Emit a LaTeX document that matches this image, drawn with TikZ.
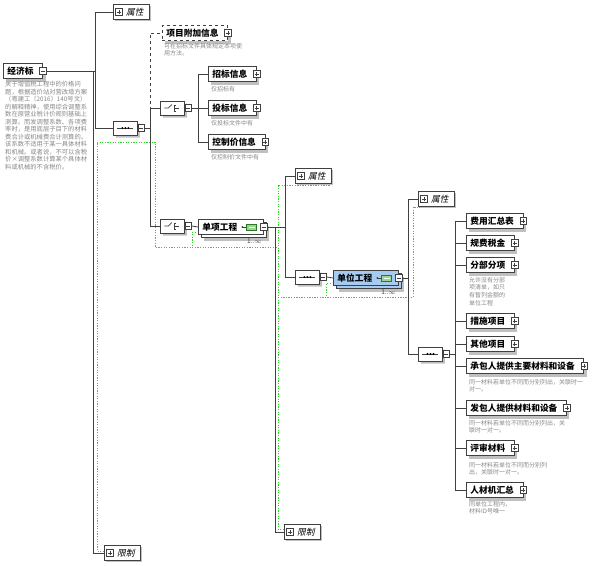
\documentclass[tikz,border=0pt]{standalone}
\usepackage{fontspec}
\setmainfont{Noto Sans CJK SC}
\newfontfamily\cjkslant[FakeSlant=0.22]{Noto Sans CJK SC}
\usetikzlibrary{positioning, shapes.misc, shadows}

\definecolor{linegray}{RGB}{64,64,64}
\definecolor{descgray}{RGB}{135,135,135}
\definecolor{shadegray}{RGB}{192,192,192}
\definecolor{selblue}{RGB}{166,202,240}
\definecolor{typegreen}{RGB}{40,215,40}
\definecolor{iconfill}{RGB}{150,215,140}
\definecolor{icondraw}{RGB}{40,120,40}

\newcommand{\seqsym}[1]{%
	\begin{scope}[shift={(#1.center)}]
		\draw[linegray, line width=0.8pt] (-8,0) -- (8,0);
		\foreach \dx in {-3,0,3}
			\fill[black] (\dx,0) circle (1.1pt);
	\end{scope}}
\newcommand{\chosym}[1]{%
	\begin{scope}[shift={(#1.center)}]
		\draw[linegray, line width=0.7pt] (-8,0) -- (-4,0) -- (-0.5,-3.5);
		\draw[linegray, line width=0.7pt] (1.5,-3) -- (1.5,3) (1.5,-3) -- (4,-3) (1.5,0) -- (7,0) (1.5,3) -- (4,3);
	\end{scope}}
\newcommand{\pad}[1]{\hspace{#1}\null}

\tikzset{
	conn/.style={draw=linegray, line width=0.8pt},
	elembox/.style={draw=linegray, fill=white, line width=0.8pt, minimum height=15pt, inner xsep=4pt, inner ysep=0pt, anchor=west, font=\fontsize{8.7}{10}\selectfont\bfseries,
		general shadow={fill=shadegray, shadow xshift=3pt, shadow yshift=-3pt}},
	optbox/.style={elembox, dashed},
	manybox/.style={elembox, general shadow={fill=shadegray, shadow xshift=6pt, shadow yshift=-6pt},
		copy shadow={shadow xshift=3pt, shadow yshift=-3pt, draw=linegray, fill=#1}},
	manybox/.default=white,
	attrbox/.style={draw=linegray, fill=white, line width=0.8pt, minimum height=15pt, minimum width=36pt, inner sep=0pt, anchor=west, font=\fontsize{8.7}{10}\cjkslant,
		general shadow={fill=shadegray, shadow xshift=1.5pt, shadow yshift=-1.5pt}},
	compbox/.style={chamfered rectangle, chamfered rectangle xsep=5pt, draw=linegray, fill=white, line width=0.8pt, minimum width=24pt, minimum height=14pt, inner sep=0pt, anchor=west,
		general shadow={fill=shadegray, shadow xshift=2.5pt, shadow yshift=-2.5pt}},
	tglminus/.style={draw=linegray, fill=white, line width=0.6pt, minimum size=6.5pt, inner sep=0pt,
		path picture={\draw[line width=0.6pt] ([xshift=1.3pt]path picture bounding box.west) -- ([xshift=-1.3pt]path picture bounding box.east);}},
	tglplus/.style={draw=linegray, fill=white, line width=0.6pt, minimum size=6.5pt, inner sep=0pt,
		path picture={\draw[line width=0.6pt] ([xshift=1.3pt]path picture bounding box.west) -- ([xshift=-1.3pt]path picture bounding box.east)
			([yshift=-1.3pt]path picture bounding box.north) -- ([yshift=1.3pt]path picture bounding box.south);}},
	cticon/.style={draw=icondraw, fill=iconfill, line width=0.5pt, minimum width=10pt, minimum height=6pt, inner sep=0pt,
		path picture={\draw[white, line width=0.6pt] ([xshift=2pt]path picture bounding box.west) -- ([xshift=-2pt]path picture bounding box.east);}},
	desc/.style={anchor=north west, align=left, inner sep=0pt, text=descgray, font=\fontsize{6}{7.6}\selectfont},
	mult/.style={anchor=north east, inner sep=0pt, text=linegray, font=\fontsize{6.5}{7}\selectfont},
	typeline/.style={draw=typegreen, dash pattern=on 1.3pt off 1.3pt, line width=1pt}
}

\begin{document}
\begin{tikzpicture}[x=1pt, y=-1pt]
	\useasboundingbox (0,0) rectangle (594,565);

	% type regions
	\draw[typeline] (104,551) -| (97,142) -- (155,142) -- (155,247) -- (278,247);
	\draw[typeline] (284,529) -| (278,185) -- (330,185);
	\draw[typeline] (278,297) -- (413,297) -- (413,207) -- (455,207);

	% root
	\node[elembox] (jjb) at (3,71) {经济标\pad{5pt}};
	\node[tglminus] (jjb-t) at (jjb.east) {};
	\node[desc, font=\fontsize{6.3}{7.5}\selectfont] (jjb-d) at (5,81) {关于增值税工程中的价格问\\题，根据造价站对营改增方案\\（粤建工〔2016〕140号文）\\的解释精神，使用综合调整系\\数在原营业税计价规则基础上\\测算。而发调整系数、各项费\\率时，是用底层子目下的材料\\费合计或机械费合计测算的。\\该系数不适用于某一具体材料\\和机械。或者说，不可以含税\\价×调整系数计算某个具体材\\料或机械的不含税价。};
	\node[attrbox] (attr0) at (113,12) {\hspace{11pt}属性\pad{4pt}};
	\node[tglplus] at ([xshift=6pt]attr0.west) {};
	\node[compbox] (seq0) at (113,128) {};
	\seqsym{seq0}
	\node[tglminus] (seq0-t) at ([xshift=3.5pt]seq0.east) {};
	\node[attrbox] (lim0) at (104,553) {\hspace{11pt}限制\pad{4pt}};
	\node[tglplus] at ([xshift=6pt]lim0.west) {};
	\coordinate (k0a) at (95,71);
	\coordinate (k0b) at (93,71);
	\draw[conn] (jjb-t.east) -- (k0a) |- (attr0.west);
	\draw[conn] (k0a) |- (seq0.west);
	\draw[conn] (k0b) |- (lim0.west);

	% sequence of root
	\node[optbox] (xmfj) at (162,33) {项目附加信息\pad{5pt}};
	\node[tglplus] (xmfj-t) at (xmfj.east) {};
	\node[desc] (xmfj-d) at (164,43) {可在招标文件具体规定本项使\\用方法。};
	\node[compbox] (cho1) at (160,108) {};
	\chosym{cho1}
	\node[tglminus] (cho1-t) at ([xshift=3.5pt]cho1.east) {};
	\node[compbox] (cho2) at (160,226) {};
	\chosym{cho2}
	\node[tglminus] (cho2-t) at ([xshift=3.5pt]cho2.east) {};
	\coordinate (k1) at (150,128);
	\draw[conn, dashed] (k1) |- (xmfj.west);
	\draw[conn] (seq0-t.east) -- (k1) |- (cho1.west);
	\draw[conn] (k1) |- (cho2.west);

	\node[elembox] (zbxx) at (208,74) {招标信息\pad{5pt}};
	\node[tglplus] (zbxx-t) at (zbxx.east) {};
	\node[desc] at (211,86) {仅招标有};
	\node[elembox] (tbxx) at (208,108) {投标信息\pad{5pt}};
	\node[tglplus] (tbxx-t) at (tbxx.east) {};
	\node[desc] at (211,120) {仅投标文件中有};
	\node[elembox] (kzjxx) at (208,142) {控制价信息\pad{5pt}};
	\node[tglplus] (kzjxx-t) at (kzjxx.east) {};
	\node[desc] at (211,154) {仅控制价文件中有};
	\coordinate (k2) at (198,108);
	\draw[conn] (cho1-t.east) -- (k2) |- (zbxx.west);
	\draw[conn] (k2) -- (tbxx.west);
	\draw[conn] (k2) |- (kzjxx.west);

	% 单项工程
	\node[manybox] (dxgc) at (198,227) {单项工程\pad{22pt}};
	\node[cticon] (dxgc-i) at ([xshift=-12pt]dxgc.east) {};
	\draw[linegray, line width=0.6pt] (dxgc-i.west) -- ++(-4,0);
	\fill[linegray] ([xshift=-4pt]dxgc-i.west) circle (1pt);
	\node[tglminus] (dxgc-t) at (dxgc.east) {};
	\node[mult] at (262,239) {1..$\infty$};
	\draw[conn] (cho2-t.east) -- (dxgc.west);
	\draw[typeline] ([xshift=-2pt, yshift=2pt]dxgc.south west) -| (192,247);

	\node[attrbox] (attr2) at (295,176) {\hspace{11pt}属性\pad{4pt}};
	\node[tglplus] at ([xshift=6pt]attr2.west) {};
	\node[compbox] (seq2) at (295,277) {};
	\seqsym{seq2}
	\node[tglminus] (seq2-t) at ([xshift=3.5pt]seq2.east) {};
	\node[attrbox] (lim2) at (284,532) {\hspace{11pt}限制\pad{4pt}};
	\node[tglplus] at ([xshift=6pt]lim2.west) {};
	\coordinate (k3a) at (285,227);
	\coordinate (k3b) at (275,227);
	\draw[conn] (dxgc-t.east) -- (k3a) |- (attr2.west);
	\draw[conn] (k3a) |- (seq2.west);
	\draw[conn] (k3b) |- (lim2.west);

	% 单位工程
	\node[manybox=selblue, fill=selblue] (dwgc) at (333,278) {单位工程\pad{22pt}};
	\node[cticon] (dwgc-i) at ([xshift=-12pt]dwgc.east) {};
	\draw[linegray, line width=0.6pt] (dwgc-i.west) -- ++(-4,0);
	\fill[linegray] ([xshift=-4pt]dwgc-i.west) circle (1pt);
	\node[tglminus] (dwgc-t) at (dwgc.east) {};
	\node[mult] at (396,290) {1..$\infty$};
	\draw[conn] (seq2-t.east) -- (dwgc.west);
	\draw[typeline] ([xshift=-2pt, yshift=2pt]dwgc.south west) -| (326,297);

	\node[attrbox] (attr3) at (418,199) {\hspace{11pt}属性\pad{4pt}};
	\node[tglplus] at ([xshift=6pt]attr3.west) {};
	\node[compbox] (seq3) at (418,354) {};
	\seqsym{seq3}
	\node[tglminus] (seq3-t) at ([xshift=3.5pt]seq3.east) {};
	\coordinate (k4) at (408,278);
	\draw[conn] (dwgc-t.east) -- (k4) |- (attr3.west);
	\draw[conn] (k4) |- (seq3.west);

	\coordinate (k5) at (455,354);
	\draw[conn] (seq3-t.east) -- (k5);
	\foreach \nm/\yy/\txt in {fyhzb/221/费用汇总表, gfsj/243/规费税金, fbfx/265/分部分项, csxm/321/措施项目, qtxm/344/其他项目, cbr/366/承包人提供主要材料和设备, fbr/408/发包人提供材料和设备, pscl/448/评审材料, rcj/490/人材机汇总}{
		\node[elembox] (\nm) at (466,\yy) {\txt\pad{5pt}};
		\node[tglplus] (\nm-t) at (\nm.east) {};
		\draw[conn] (k5) |- (\nm.west);
	}
	\node[desc] at (469,277) {允许没有分部\\项清单，如只\\有暂列金额的\\单位工程};
	\node[desc] at (469,379) {同一材料若单位不同而分别列出，关联时一\\对一。};
	\node[desc] at (469,420) {同一材料若单位不同而分别列出，关\\联时一对一。};
	\node[desc] at (469,462) {同一材料若单位不同而分别列\\出，关联时一对一。};
	\node[desc] at (469,501) {同单位工程内，\\材料ID号唯一};
\end{tikzpicture}
\end{document}
